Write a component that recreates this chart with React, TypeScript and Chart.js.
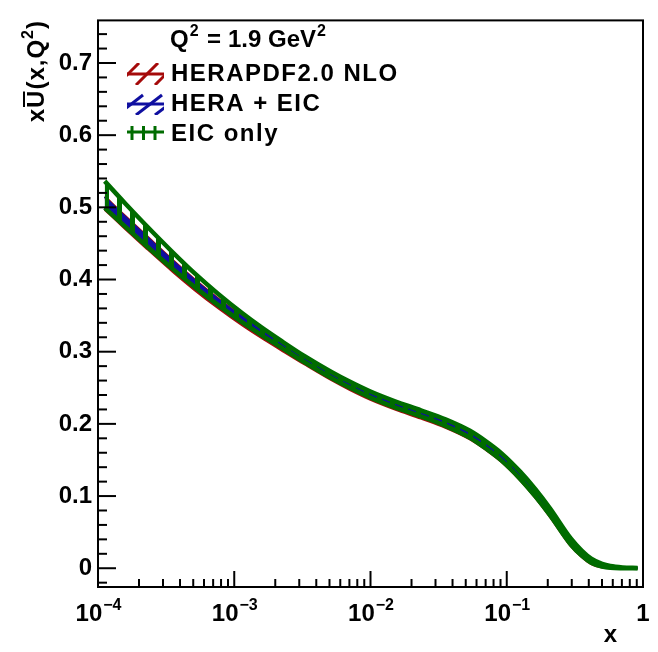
import React, { useEffect, useRef } from "react";
import { Chart, registerables } from "chart.js";
Chart.register(...registerables);

// ---------- data (central value and half-width of each PDF band) ----------
const xValues = [1.12e-4, 1.585e-4, 2.24e-4, 3.55e-4, 5.13e-4, 7.59e-4, 1.148e-3, 1.585e-3, 2.19e-3, 3.31e-3, 5.13e-3, 7.08e-3, 1e-2, 1.514e-2, 2.344e-2, 3.55e-2, 5.37e-2, 7.08e-2, 9.12e-2, 1.259e-1, 1.622e-1, 2.089e-1, 2.951e-1, 3.548e-1, 4.169e-1, 5.012e-1, 5.754e-1, 7.079e-1, 9.12e-1];

const heraCentral = [0.5060, 0.4790, 0.4529, 0.4186, 0.3927, 0.3673, 0.3426, 0.3248, 0.3080, 0.2869, 0.2658, 0.2518, 0.2383, 0.2248, 0.2123, 0.1998, 0.1838, 0.1687, 0.1527, 0.1267, 0.1027, 0.0757, 0.0354, 0.0197, 0.0094, 0.0035, 0.0014, 0.0004, 0.0002];
const heraError = [0.0090, 0.0087, 0.0085, 0.0078, 0.0071, 0.0065, 0.0060, 0.0055, 0.0051, 0.0047, 0.0047, 0.0047, 0.0047, 0.0047, 0.0047, 0.0048, 0.0050, 0.0050, 0.0050, 0.0050, 0.0050, 0.0050, 0.0047, 0.0040, 0.0034, 0.0022, 0.0012, 0.0004, 0.0002];

const heraEicCentral = [0.5068, 0.4798, 0.4537, 0.4194, 0.3935, 0.3681, 0.3434, 0.3256, 0.3088, 0.2877, 0.2666, 0.2526, 0.2391, 0.2256, 0.2131, 0.2006, 0.1846, 0.1695, 0.1535, 0.1275, 0.1035, 0.0765, 0.0362, 0.0204, 0.0100, 0.0039, 0.0016, 0.0005, 0.0002];
const heraEicError = [0.0075, 0.0072, 0.0070, 0.0063, 0.0056, 0.0050, 0.0045, 0.0040, 0.0036, 0.0032, 0.0032, 0.0032, 0.0032, 0.0032, 0.0032, 0.0033, 0.0035, 0.0035, 0.0035, 0.0035, 0.0035, 0.0035, 0.0032, 0.0028, 0.0024, 0.0016, 0.0010, 0.0004, 0.0002];

const eicCentral = [0.5178, 0.4893, 0.4615, 0.4259, 0.3990, 0.3726, 0.3469, 0.3284, 0.3110, 0.2892, 0.2681, 0.2541, 0.2406, 0.2271, 0.2146, 0.2018, 0.1856, 0.1705, 0.1545, 0.1285, 0.1045, 0.0775, 0.0370, 0.0210, 0.0105, 0.0042, 0.0018, 0.0006, 0.0002];
const eicError = [0.0185, 0.0160, 0.0140, 0.0115, 0.0095, 0.0078, 0.0063, 0.0053, 0.0046, 0.0042, 0.0042, 0.0042, 0.0042, 0.0042, 0.0042, 0.0045, 0.0048, 0.0050, 0.0050, 0.0050, 0.0050, 0.0048, 0.0042, 0.0035, 0.0028, 0.0018, 0.0012, 0.0005, 0.0002];

const seriesNames = ["HERAPDF2.0 NLO", "HERA + EIC", "EIC only"];
const yTickValues = [0, 0.1, 0.2, 0.3, 0.4, 0.5, 0.6, 0.7];
const yTickLabels = ["0", "0.1", "0.2", "0.3", "0.4", "0.5", "0.6", "0.7"];
const xDecades = [-4, -3, -2, -1, 0];

const RED = "rgb(165,10,10)";
const BLUE = "rgb(15,15,160)";
const GREEN = "rgb(0,108,0)";
const FONT = '"Liberation Sans", Arial, sans-serif';

function makePattern(kind: string, color: string): CanvasPattern | string {
  const c = document.createElement("canvas");
  const g = c.getContext("2d");
  if (!g) return color;
  if (kind === "vert") {
    c.width = 13; c.height = 13;
    g.fillStyle = color;
    g.fillRect(0, 0, 5, 13);
  } else {
    c.width = 8; c.height = 8;
    g.strokeStyle = color; g.lineWidth = 1.5;
    g.beginPath();
    g.moveTo(0, 8); g.lineTo(8, 0);
    g.moveTo(-4, 4); g.lineTo(4, -4);
    g.moveTo(4, 12); g.lineTo(12, 4);
    g.stroke();
  }
  const p = g.createPattern(c, "repeat");
  return p || color;
}

function seg(ctx: CanvasRenderingContext2D, x1: number, y1: number, x2: number, y2: number) {
  ctx.beginPath(); ctx.moveTo(x1, y1); ctx.lineTo(x2, y2); ctx.stroke();
}

function setSpacing(ctx: any, s: string) {
  if ("letterSpacing" in ctx) ctx.letterSpacing = s;
}

const decor = {
  id: "decor",
  afterDraw(chart: any) {
    const ctx: CanvasRenderingContext2D = chart.ctx;
    const a = chart.chartArea;
    const xs = chart.scales.x;
    const ys = chart.scales.y;
    ctx.save();
    ctx.strokeStyle = "#000";
    ctx.fillStyle = "#000";
    // frame
    ctx.lineWidth = 2;
    ctx.strokeRect(a.left, a.top, a.right - a.left, a.bottom - a.top);
    // y ticks (inward)
    for (let i = -1; i <= 37; i++) {
      const v = i * 0.02;
      const py = ys.getPixelForValue(v);
      if (py < a.top + 1 || py > a.bottom - 1) continue;
      const len = i % 5 === 0 ? 18 : 9;
      seg(ctx, a.left, py, a.left + len, py);
    }
    // x ticks (inward)
    for (let d = -4; d < 0; d++) {
      for (let m = 1; m < 10; m++) {
        const px = xs.getPixelForValue(m * Math.pow(10, d));
        const len = m === 1 ? 16 : 8;
        if (px <= a.left + 1) continue;
        seg(ctx, px, a.bottom, px, a.bottom - len);
      }
    }
    // x tick labels
    const big = `bold 24px ${FONT}`;
    const small = `bold 16px ${FONT}`;
    ctx.textBaseline = "alphabetic";
    ctx.textAlign = "left";
    xDecades.forEach((d) => {
      const px = xs.getPixelForValue(Math.pow(10, d));
      const base = 621;
      if (d === 0) {
        ctx.font = big;
        const w = ctx.measureText("1").width;
        ctx.fillText("1", px - w / 2, base);
        return;
      }
      ctx.font = big;
      const w10 = ctx.measureText("10").width;
      ctx.font = small;
      const sup = "\u2212" + String(-d);
      const ws = ctx.measureText(sup).width;
      const start = px - (w10 + ws) / 2;
      ctx.font = big;
      ctx.fillText("10", start, base);
      ctx.font = small;
      ctx.fillText(sup, start + w10 + 1, base - 11);
    });
    // x axis title
    ctx.font = big;
    ctx.textAlign = "right";
    ctx.fillText("x", 617, 642);
    ctx.textAlign = "left";
    // y axis title (rotated)
    ctx.save();
    ctx.translate(44, 20);
    ctx.rotate(-Math.PI / 2);
    setSpacing(ctx, "1px");
    const parts: [string, boolean][] = [["x", false], ["U", false], ["(x,Q", false], ["2", true], [")", false]];
    let total = 0;
    const widths = parts.map(([t, s]) => {
      ctx.font = s ? small : big;
      const w = ctx.measureText(t).width;
      total += w;
      return w;
    });
    let cx = -total;
    parts.forEach(([t, s], i) => {
      ctx.font = s ? small : big;
      ctx.fillText(t, cx, s ? -11 : 0);
      if (t === "U") {
        ctx.lineWidth = 2;
        seg(ctx, cx + 1, -20, cx + widths[i] - 2, -20);
      }
      cx += widths[i];
    });
    setSpacing(ctx, "0px");
    ctx.restore();
    // Q^2 label
    const qb = 47;
    ctx.font = big;
    ctx.fillText("Q", 170, qb);
    const wq = ctx.measureText("Q").width;
    ctx.font = small;
    ctx.fillText("2", 170 + wq + 1, qb - 11);
    ctx.font = big;
    ctx.fillText("=", 207, qb);
    ctx.fillText("1.9", 228, qb);
    ctx.fillText("GeV", 268, qb);
    const wg = ctx.measureText("GeV").width;
    ctx.font = small;
    ctx.fillText("2", 268 + wg + 1, qb - 11);
    // legend
    const rows = [
      { name: seriesNames[0], color: RED, kind: "red", y0: 63 },
      { name: seriesNames[1], color: BLUE, kind: "blue", y0: 93 },
      { name: seriesNames[2], color: GREEN, kind: "green", y0: 123 },
    ];
    rows.forEach((r) => {
      const x0 = 127, w = 37, h = 22;
      ctx.save();
      ctx.beginPath(); ctx.rect(x0, r.y0, w, h); ctx.clip();
      ctx.strokeStyle = r.color;
      ctx.lineWidth = 3;
      if (r.kind === "red") {
        for (let k = -10; k < w + 10; k += 19) seg(ctx, x0 + k, r.y0 + h, x0 + k + 22, r.y0);
      } else if (r.kind === "blue") {
        for (let k = -10; k < w + 10; k += 19) seg(ctx, x0 + k, r.y0 + h, x0 + k + 26, r.y0 + 2);
      } else {
        for (let k = 5; k < w; k += 11.5) seg(ctx, x0 + k, r.y0 + 3, x0 + k, r.y0 + h - 5);
      }
      ctx.restore();
      ctx.strokeStyle = r.color;
      ctx.lineWidth = 3;
      const my = r.kind === "green" ? r.y0 + 9 : r.y0 + h / 2;
      seg(ctx, x0, my, x0 + w, my);
      ctx.fillStyle = "#000";
      ctx.font = big;
      setSpacing(ctx, "1.5px");
      ctx.fillText(r.name, 171, r.y0 + 18);
      setSpacing(ctx, "0px");
    });
    ctx.restore();
  },
};

function edge(central: number[], err: number[], sign: number) {
  return xValues.map((x, i) => ({ x, y: Math.max(0, central[i] + sign * err[i]) }));
}

export default function App() {
  const ref = useRef<HTMLCanvasElement>(null);
  useEffect(() => {
    if (!ref.current) return;
    const common = { pointRadius: 0, cubicInterpolationMode: "monotone" as const };
    const chart = new Chart(ref.current, {
      type: "line",
      data: {
        datasets: [
          { label: seriesNames[2] + " up", data: edge(eicCentral, eicError, 1), borderColor: GREEN, borderWidth: 4.5, fill: false, order: 1, ...common },
          { label: seriesNames[2], data: edge(eicCentral, eicError, -1), borderColor: GREEN, borderWidth: 4.5, fill: "-1", backgroundColor: makePattern("vert", GREEN) as any, order: 1, ...common },
          { label: seriesNames[1] + " up", data: edge(heraEicCentral, heraEicError, 1), borderColor: BLUE, borderWidth: 2, fill: false, order: 2, ...common },
          { label: seriesNames[1], data: edge(heraEicCentral, heraEicError, -1), borderColor: BLUE, borderWidth: 2, fill: "-1", backgroundColor: BLUE, order: 2, ...common },
          { label: seriesNames[0] + " up", data: edge(heraCentral, heraError, 1), borderColor: RED, borderWidth: 2.5, fill: false, order: 3, ...common },
          { label: seriesNames[0], data: edge(heraCentral, heraError, -1), borderColor: RED, borderWidth: 2.5, fill: "-1", backgroundColor: makePattern("diag", RED) as any, order: 3, ...common },
        ],
      },
      options: {
        animation: false,
        responsive: false,
        layout: { padding: { top: 19, right: 15, left: 0, bottom: 0 } },
        plugins: { legend: { display: false }, tooltip: { enabled: false } },
        scales: {
          x: {
            type: "logarithmic",
            min: 1e-4,
            max: 1,
            grid: { display: false, drawTicks: false },
            border: { display: false },
            ticks: { display: false },
            afterFit: (s: any) => { s.height = 65; },
          },
          y: {
            type: "linear",
            min: -0.026,
            max: 0.759,
            grid: { display: false, drawTicks: false },
            border: { display: false },
            afterBuildTicks: (s: any) => { s.ticks = yTickValues.map((v) => ({ value: v })); },
            ticks: {
              padding: 6,
              color: "#000",
              font: { family: FONT, size: 24, weight: "bold" },
              callback: (_v: any, i: number) => yTickLabels[i],
            },
            afterFit: (s: any) => { s.width = 98; },
          },
        },
      },
      plugins: [decor],
    } as any);
    return () => chart.destroy();
  }, []);
  return (
    <div style={{ position: "absolute", left: 0, top: 0, width: 658, height: 652, background: "#fff" }}>
      <canvas ref={ref} width={658} height={652} style={{ display: "block" }} />
    </div>
  );
}
